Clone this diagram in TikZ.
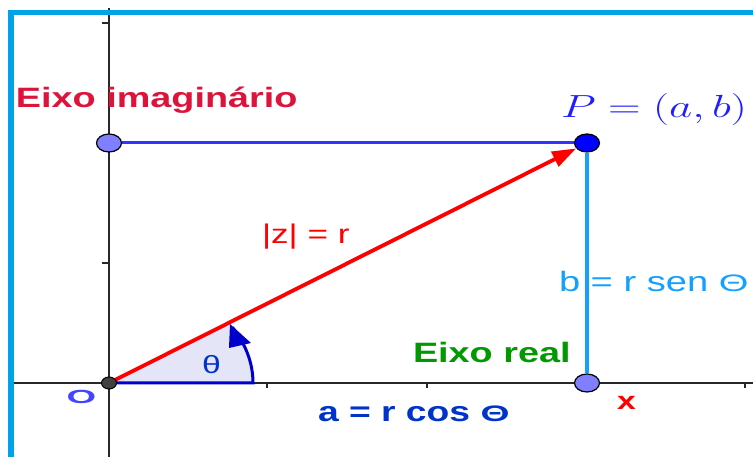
\RequirePackage{fix-cm}
\documentclass[tikz,border=0pt]{standalone}
\usepackage[no-math]{fontspec}
\newfontfamily\arial{Liberation Sans}
\usetikzlibrary{shapes.geometric,arrows.meta}
\definecolor{framecol}{RGB}{0,163,232}
\definecolor{axiscol}{RGB}{40,40,40}
\definecolor{crimsoncol}{RGB}{220,20,60}
\definecolor{greencol}{RGB}{0,153,0}
\definecolor{pbluecol}{RGB}{30,30,255}
\definecolor{linecol}{RGB}{51,51,255}
\definecolor{skycol}{RGB}{20,160,255}
\definecolor{darkbluecol}{RGB}{0,51,204}
\definecolor{angfillcol}{RGB}{229,229,248}
\definecolor{anglinecol}{RGB}{0,0,204}
\definecolor{ptfillcol}{RGB}{127,127,255}
\definecolor{ograycol}{RGB}{64,64,64}
\definecolor{olabcol}{RGB}{68,68,255}
\newcommand{\hs}[2]{\scalebox{#1}[1]{#2}}
\pgfdeclarelayer{bg}
\pgfsetlayers{bg,main}
\begin{document}
\begin{tikzpicture}[x=1pt,y=1pt,
  txt/.style={inner sep=0pt, outer sep=0pt, anchor=base west},
  pt/.style={ellipse, draw=black, line width=1.2pt, fill=ptfillcol, minimum width=25pt, minimum height=18pt, inner sep=0pt},
  axis/.style={axiscol, line width=1.8pt},
  tick/.style={axiscol, line width=1.4pt}]
\useasboundingbox (0,0) rectangle (753,457);

% points
\node[pt] (A) at (109,314) {};
\node[pt] (B) at (587,74) {};
\node[pt, fill=blue] (P) at (587,314) {};
\node[ellipse, draw=black, line width=1pt, fill=ograycol, minimum width=15pt, minimum height=12pt, inner sep=0pt] (O) at (109,74) {};

\begin{pgfonlayer}{bg}
  \fill[white] (0,0) rectangle (753,457);
  % axes
  \coordinate (ytop) at (109,449);
  \coordinate (ybot) at (109,0);
  \coordinate (xleft) at (13,74);
  \coordinate (xright) at (753,74);
  \draw[axis] (ybot) -- (ytop);
  \draw[axis] (xleft) -- (xright);
  \foreach \yy in {434,314,194} \draw[tick] (102,\yy) -- (109,\yy);
  \foreach \xx in {267,427,587,745} \draw[tick] (\xx,74) -- (\xx,69);
  % frame
  \draw[framecol, line width=5pt] (8,444.5) -- (753,444.5);
  \draw[framecol, line width=5.5pt] (11,447) -- (11,0);
  % angle sector
  \fill[angfillcol] (O.center) -- (253,74) arc[start angle=0, end angle=33.8, x radius=144, y radius=108] -- cycle;
  \draw[anglinecol, line width=3pt] (O.center) -- (253,74) arc[start angle=0, end angle=31, x radius=144, y radius=108];
  \fill[anglinecol] (230,133) -- (229,109) -- (251,114) -- cycle;
  % segments
  \draw[linecol, line width=3pt] (A) -- (P);
  \draw[skycol, line width=4pt] (P) -- (B);
  \draw[red, line width=3.8pt, -{Triangle[length=24pt,width=16pt]}] (O.center) -- (P);
\end{pgfonlayer}

% labels
\node[txt, text=crimsoncol] (imag) at (16,349) {\hs{1.35}{\arial\fontsize{28}{28}\selectfont\bfseries Eixo imaginário}};
\node[txt, text=greencol] (real) at (413,94) {\hs{1.35}{\arial\fontsize{28}{28}\selectfont\bfseries Eixo real}};
\node[txt, text=pbluecol] (ptxt) at (561,339) {\hs{1.41}{\fontsize{32}{32}\selectfont$P=(a,b)$}};
\node[txt, text=red] (ztxt) at (262,213) {\hs{1.3}{\arial\fontsize{27}{27}\selectfont |z| = r}};
\node[txt, text=skycol] (btxt) at (559,165) {\hs{1.36}{\arial\fontsize{28}{28}\selectfont b = r sen \scalebox{1}[0.85]{Θ}}};
\node[txt, text=darkbluecol] (atxt) at (318,35) {\hs{1.33}{\arial\fontsize{28}{28}\selectfont\bfseries a = r cos \scalebox{1}[0.8]{Θ}}};
\node[text=darkbluecol, inner sep=0pt] (theta) at (211.5,92.5) {\hs{1.35}{\arial\fontsize{25}{25}\selectfont θ}};
\node[text=olabcol, inner sep=0pt] (olab) at (81.5,60.5) {\hs{2.0}{\arial\fontsize{19}{19}\selectfont\bfseries O}};
\node[txt, text=red] (xlab) at (617,47) {\hs{1.35}{\arial\fontsize{25}{25}\selectfont\bfseries x}};
\end{tikzpicture}
\end{document}
